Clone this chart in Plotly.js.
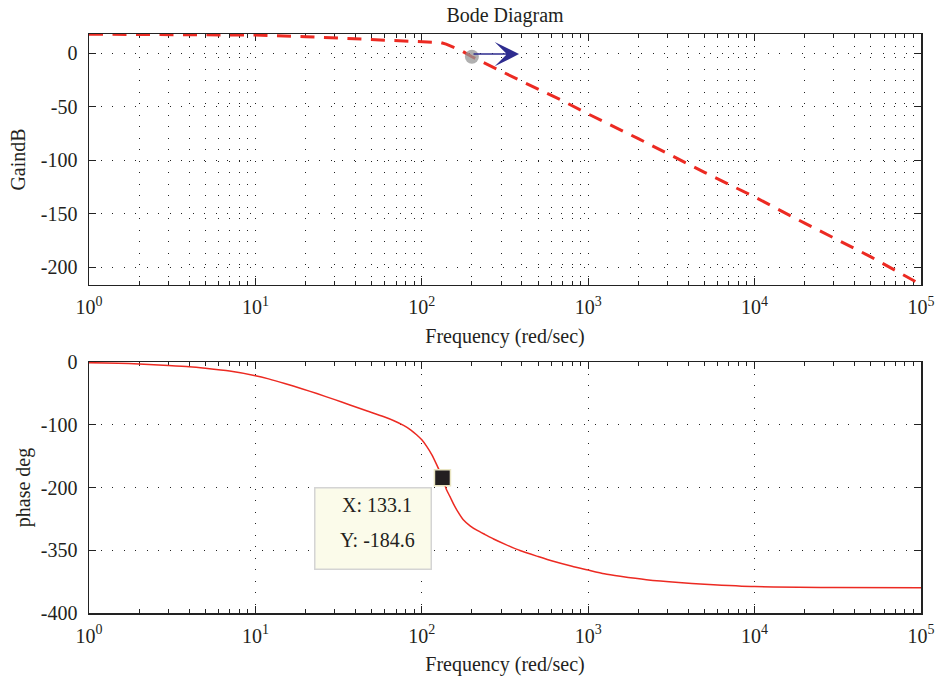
<!DOCTYPE html>
<html>
<head>
<meta charset="utf-8">
<script src="https://cdn.plot.ly/plotly-3.0.1.min.js"></script>
<style>
html,body{margin:0;padding:0;background:#fff;}
#chart{width:935px;height:678px;}
</style>
</head>
<body>
<div id="chart"></div>
<script>
// ---- data ----
var gainFreq = [1, 3, 10, 20, 30, 50, 80, 110, 130, 140, 150, 160, 175, 200, 225, 250, 300, 400, 500, 700, 1000, 2000, 5000, 10000, 20000, 50000, 100000];
var gainDb   = [17.6, 17.5, 16.8, 15.3, 14.2, 12.4, 10.9, 10.7, 9.8, 8.3, 6.5, 4.8, 1.8, -3.5, -7.2, -10.8, -17, -26.5, -33.5, -44.5, -57, -80, -111.5, -134.5, -159, -190.5, -216.5];

var phaseFreq = [1, 1.5, 2, 3, 4, 5, 7, 10, 12, 15, 19, 23.4, 30, 37, 47, 58.7, 68, 77.7, 86, 93, 100, 107, 115, 123, 133.1, 141, 148, 155, 165, 177, 195, 214, 240, 270, 320, 389, 500, 617, 800, 980, 1250, 1557, 2236, 3500, 5000, 10000, 30000, 100000];
var phaseDeg  = [-1, -2, -3.2, -5.5, -7.5, -10, -14.5, -21.8, -26.9, -34.2, -42.6, -50.3, -60, -68.4, -78, -86.9, -93.6, -101.1, -108.4, -115.9, -124, -134.5, -148, -164, -184.6, -204, -215, -226, -239, -251, -261, -268, -275, -282, -291, -300.5, -310, -317.5, -325.5, -331, -337.5, -341.5, -347, -351.5, -354, -357.8, -359.3, -359.8];

var gainMarkerFreq = [200];
var gainMarkerDb = [-3.5];
var arrowTipFreq = 384;
var arrowTipDb = -1;

var cursorX = [133.1];
var cursorY = [-184.6];

var xTickVals = [1, 10, 100, 1000, 10000, 100000];
var xTickText = ['10<sup>0</sup>', '10<sup>1</sup>', '10<sup>2</sup>', '10<sup>3</sup>', '10<sup>4</sup>', '10<sup>5</sup>'];
var gainTickVals = [0, -50, -100, -150, -200];
var gainTickText = ['0', '-50', '-100', '-150', '-200'];
var phaseTickVals = [0, -100, -200, -300, -400];
var phaseTickText = ['0', '-100', '-200', '-350', '-400'];

// ---- styling ----
var FONT = 'Liberation Serif, Times New Roman, serif';
var TXT = '#231f20';
var RED = '#ec2a22';
var GRIDDASH = '1px,10.5px';

function xAxis(domainAnchor, minorGrid) {
  return {
    type: 'log', range: [0, 5], anchor: domainAnchor,
    tickvals: xTickVals, ticktext: xTickText,
    ticks: 'inside', ticklen: 7, tickwidth: 1, tickcolor: '#222',
    showline: true, linecolor: '#222', linewidth: 1.5, mirror: 'ticks',
    showgrid: true, gridcolor: '#222', gridwidth: 1, griddash: GRIDDASH,
    minor: {dtick: 'D1', ticks: 'inside', ticklen: 4, tickwidth: 1, tickcolor: '#222',
            showgrid: minorGrid, gridcolor: '#222', gridwidth: 1, griddash: GRIDDASH},
    zeroline: false, layer: 'below traces',
    tickfont: {family: FONT, size: 20, color: TXT},
    ticklabelstandoff: 4,
    title: {text: 'Frequency (red/sec)', font: {family: FONT, size: 20, color: TXT}, standoff: 11},
    automargin: false
  };
}
function yAxis(domain, range, tv, tt, titleText, anchor, standoff) {
  return {
    domain: domain, range: range, anchor: anchor,
    tickvals: tv, ticktext: tt,
    ticks: 'inside', ticklen: 7, tickwidth: 1, tickcolor: '#222',
    showline: true, linecolor: '#222', linewidth: 1.5, mirror: 'ticks',
    showgrid: true, gridcolor: '#222', gridwidth: 1, griddash: GRIDDASH,
    zeroline: false, layer: 'below traces',
    tickfont: {family: FONT, size: 20, color: TXT},
    ticklabelstandoff: 6,
    title: {text: titleText, font: {family: FONT, size: 20, color: TXT}, standoff: standoff},
    automargin: false
  };
}

var traces = [
  {x: gainFreq, y: gainDb, xaxis: 'x', yaxis: 'y', mode: 'lines',
   line: {color: RED, width: 3, dash: '14px,9.5px'}, hoverinfo: 'skip'},
  {x: gainMarkerFreq, y: gainMarkerDb, xaxis: 'x', yaxis: 'y', mode: 'markers',
   marker: {color: 'rgba(150,150,150,0.75)', size: 14, line: {width: 0}}, hoverinfo: 'skip'},
  {x: phaseFreq, y: phaseDeg, xaxis: 'x2', yaxis: 'y2', mode: 'lines',
   line: {color: RED, width: 1.5, shape: 'spline', smoothing: 0.6}, hoverinfo: 'skip'},
  {x: cursorX, y: cursorY, xaxis: 'x2', yaxis: 'y2', mode: 'markers',
   marker: {symbol: 'square', color: '#231f20', size: 16, line: {color: '#e9e5c2', width: 1.5}}, hoverinfo: 'skip'}
];

var layout = {
  width: 935, height: 678,
  margin: {l: 89, r: 14, t: 34, b: 65},
  paper_bgcolor: '#ffffff', plot_bgcolor: '#ffffff',
  showlegend: false,
  title: {text: 'Bode Diagram', font: {family: FONT, size: 20, color: TXT},
          x: 0.5, xref: 'paper', y: 0.978, yref: 'container', yanchor: 'middle'},
  xaxis: xAxis('y', true),
  yaxis: yAxis([0.5665, 1], [-216.8, 17.8], gainTickVals, gainTickText, 'GaindB', 'x', 10),
  xaxis2: xAxis('y2', false),
  yaxis2: yAxis([0, 0.4335], [-400, 0], phaseTickVals, phaseTickText, 'phase deg', 'x2', 5),
  annotations: [
    {xref: 'x', yref: 'y', x: Math.log10(arrowTipFreq), y: arrowTipDb, text: '',
     showarrow: true, arrowhead: 3, arrowsize: 2.7, arrowwidth: 1.5, arrowcolor: '#2e2c8f',
     ax: -47, ay: 0, standoff: 0},
    {xref: 'x2', yref: 'y2', x: 1.7097, y: -266.1, text: '', showarrow: false,
     width: 113, height: 78, bgcolor: '#fbfbea', bordercolor: '#d4d4d4', borderwidth: 1.5,
     xanchor: 'center', yanchor: 'middle'},
    {xref: 'x2', yref: 'y2', x: 1.7308, y: -227.9, text: 'X: ' + cursorX[0],
     showarrow: false, font: {family: FONT, size: 20, color: TXT}, xanchor: 'center', yanchor: 'middle'},
    {xref: 'x2', yref: 'y2', x: 1.7308, y: -283.7, text: 'Y: ' + cursorY[0],
     showarrow: false, font: {family: FONT, size: 20, color: TXT}, xanchor: 'center', yanchor: 'middle'}
  ]
};

Plotly.newPlot('chart', traces, layout, {staticPlot: true, displayModeBar: false});
</script>
</body>
</html>
